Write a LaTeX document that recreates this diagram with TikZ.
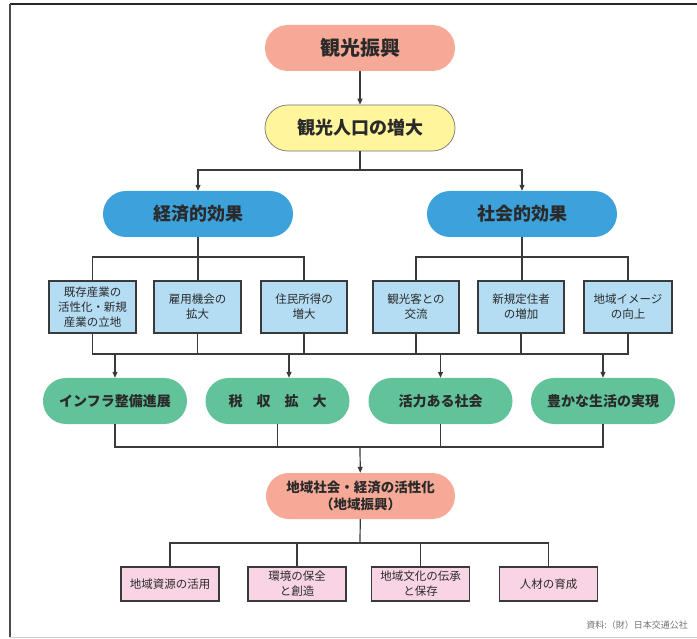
\documentclass[tikz,border=0pt]{standalone}
\usepackage{fontspec}
\setmainfont{Noto Sans CJK JP}
\newfontfamily\cjk{Noto Sans CJK JP}
\usetikzlibrary{arrows.meta}
\definecolor{salmon}{HTML}{F6A997}
\definecolor{yell}{HTML}{FFF59C}
\definecolor{bluep}{HTML}{3DA2DB}
\definecolor{greenp}{HTML}{62C29A}
\definecolor{lblue}{HTML}{B4DDF4}
\definecolor{lpink}{HTML}{F9D4E5}
\definecolor{txt}{HTML}{2A2A2A}
\definecolor{ln}{HTML}{3A3A3A}
\tikzset{
  pill/.style={rectangle, rounded corners=22.9pt, minimum height=46pt, inner sep=0pt, text=txt, align=center},
  sbox/.style={rectangle, draw=ln, line width=1.1pt, minimum height=52pt, inner sep=0pt, text=txt, align=center, font=\cjk\fontsize{11.5}{15}\selectfont},
  pbox/.style={rectangle, draw=ln, line width=1.1pt, minimum height=34pt, minimum width=98pt, inner sep=0pt, text=txt, align=center, font=\cjk\fontsize{11.5}{15}\selectfont},
  conn/.style={draw=ln, line width=1.2pt},
  arr/.style={conn, -{Triangle[length=6pt,width=5pt]}},
}
\begin{document}
\begin{tikzpicture}[x=1pt,y=-1pt]
\useasboundingbox (0,0) rectangle (697,639);
\fill[white] (0,0) rectangle (697,639);
% frame
\draw[black!85, line width=2pt] (697,4) -- (10,4);
\draw[black!70, line width=1.5pt] (10,4) -- (10,637);
\draw[black!20, line width=1pt] (10,637) -- (697,637);

% nodes
\node[pill, fill=salmon, minimum width=190pt, font=\cjk\bfseries\fontsize{20}{24}\selectfont] (top) at (360,48) {観光振興};
\node[pill, fill=yell, draw=black!55, line width=0.7pt, minimum width=190pt, font=\cjk\bfseries\fontsize{18}{22}\selectfont] (pop) at (360,128) {観光人口の増大};
\node[pill, fill=bluep, minimum width=190pt, font=\cjk\bfseries\fontsize{18}{22}\selectfont] (eco) at (198,214) {経済的効果};
\node[pill, fill=bluep, minimum width=190pt, font=\cjk\bfseries\fontsize{18}{22}\selectfont] (soc) at (522,214) {社会的効果};

\node[sbox, fill=lblue, minimum width=87pt] (s1) at (92.5,307) {既存産業の\\活性化・新規\\産業の立地};
\node[sbox, fill=lblue, minimum width=87pt] (s2) at (197.5,307) {雇用機会の\\拡大};
\node[sbox, fill=lblue, minimum width=86pt] (s3) at (304,307) {住民所得の\\増大};
\node[sbox, fill=lblue, minimum width=86pt] (s4) at (416,307) {観光客との\\交流};
\node[sbox, fill=lblue, minimum width=86pt] (s5) at (521,307) {新規定住者\\の増加};
\node[sbox, fill=lblue, minimum width=88pt] (s6) at (628,307) {地域イメージ\\の向上};

\node[pill, fill=greenp, minimum width=144pt, font=\cjk\bfseries\fontsize{14}{18}\selectfont] (g1) at (115,401) {インフラ整備進展};
\node[pill, fill=greenp, minimum width=144pt, font=\cjk\bfseries\fontsize{14}{18}\selectfont] (g2) at (277.5,401) {税　収　拡　大};
\node[pill, fill=greenp, minimum width=144pt, font=\cjk\bfseries\fontsize{14}{18}\selectfont] (g3) at (440.5,401) {活力ある社会};
\node[pill, fill=greenp, minimum width=144pt, font=\cjk\bfseries\fontsize{14}{18}\selectfont] (g4) at (603,401) {豊かな生活の実現};

\node[pill, fill=salmon, minimum width=189pt, font=\cjk\bfseries\fontsize{13.5}{17}\selectfont] (reg) at (360.5,496) {地域社会・経済の活性化\\（地域振興）};

\node[pbox, fill=lpink] (p1) at (170,584) {地域資源の活用};
\node[pbox, fill=lpink] (p2) at (297,584) {環境の保全\\と創造};
\node[pbox, fill=lpink] (p3) at (420.5,584) {地域文化の伝承\\と保存};
\node[pbox, fill=lpink] (p4) at (548.5,584) {人材の育成};

\node[anchor=east, text=black!55, inner sep=0pt, font=\cjk\fontsize{9}{11}\selectfont] (src) at (688,625) {資料:（財）日本交通公社};

% coordinates
\coordinate (j1) at (360,170);
\coordinate (h1) at (198,257);
\coordinate (h2) at (522,257);
\coordinate (L) at (360,354);
\coordinate (a2) at (289,354);
\coordinate (M) at (360,447);
\coordinate (P) at (360,543);

% connectors
\draw[arr] (top) -- (pop);
\draw[conn] (pop) -- (j1);
\draw[arr] (j1) -| (eco);
\draw[arr] (j1) -| (soc);

\draw[conn] (eco) -- (h1);
\draw[conn] (s1.north) |- (h1) -| (s3.north);
\draw[conn] (h1) -- (s2.north -| h1);
\draw[conn] (soc) -- (h2);
\draw[conn] (s4.north) |- (h2) -| (s6.north);
\draw[conn] (h2) -- (s5.north -| h2);

\draw[conn] (s1.south) -- (s1.south |- L) -- (s6.south |- L) -- (s6.south);
\draw[conn] (s2.south) -- (s2.south |- L);
\draw[conn] (s3.south) -- (s3.south |- L);
\draw[conn] (s4.south) -- (s4.south |- L);
\draw[conn] (s5.south) -- (s5.south |- L);

\draw[arr] (g1.north |- L) -- (g1.north);
\draw[arr] (a2) -- (a2 |- g2.north);
\draw[arr] (g3.north |- L) -- (g3.north);
\draw[arr] (g4.north |- L) -- (g4.north);

\draw[conn] (g1.south) |- (M) -| (g4.south);
\draw[conn] (g2.south) -- (g2.south |- M);
\draw[conn] (g3.south) -- (g3.south |- M);
\draw[arr] (M) -- (reg);

\draw[conn] (reg) -- (P);
\draw[conn] (p1.north) |- (P) -| (p4.north);
\draw[conn] (p2.north) -- (p2.north |- P);
\draw[conn] (p3.north) -- (p3.north |- P);
\end{tikzpicture}
\end{document}
